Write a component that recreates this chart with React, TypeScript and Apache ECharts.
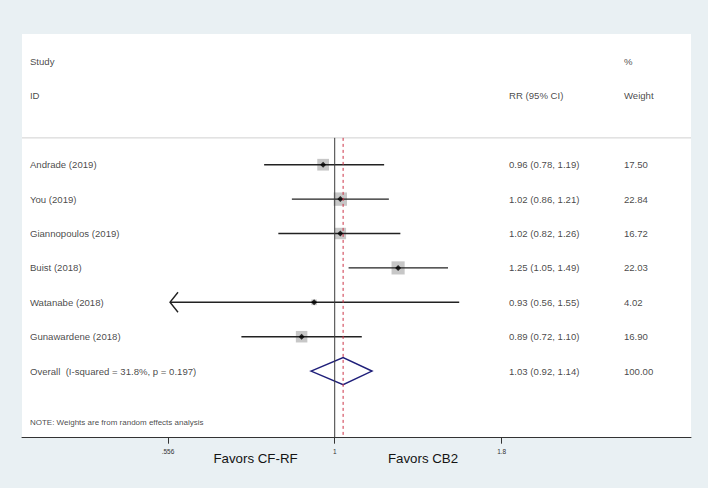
import React, { useEffect, useRef } from "react";
import * as echarts from "echarts";

// ---------- data ----------
const studies = [
  "Andrade (2019)",
  "You (2019)",
  "Giannopoulos (2019)",
  "Buist (2018)",
  "Watanabe (2018)",
  "Gunawardene (2018)",
];
const rr = [0.96, 1.02, 1.02, 1.25, 0.93, 0.89];
const lower = [0.78, 0.86, 0.82, 1.05, 0.56, 0.72];
const upper = [1.19, 1.21, 1.26, 1.49, 1.55, 1.1];
const weights = [17.5, 22.84, 16.72, 22.03, 4.02, 16.9];
const clippedLow = [false, false, false, false, true, false];

const overallLabel = "Overall  (I-squared = 31.8%, p = 0.197)";
const overallRR = 1.03;
const overallLower = 0.92;
const overallUpper = 1.14;
const overallWeight = 100;

const nullValue = 1;
const tickValues = [0.556, 1, 1.8];
const tickLabels = [".556", "1", "1.8"];
const favorLeft = "Favors CF-RF";
const favorRight = "Favors CB2";
const noteText = "NOTE: Weights are from random effects analysis";

// ---------- layout ----------
const FONT = "'Liberation Sans', Arial, Helvetica, sans-serif";
const TEXT_COLOR = "#141414";
const X_MIN = 0.3326; // RR at the left edge of the plot region
const X_MAX = 3.505; // RR at the right edge of the plot region
const COL_STUDY = 0.342;
const COL_RR = 1.847;
const COL_W = 2.768;
const Y_MIN = -0.8;
const Y_MAX = 10.936;
const ROW_FIRST = 3;
const ROW_OVERALL = 9;
const ROW_NOTE = 10.5;
const HEADER_LINE = 2.22;

const L = Math.log;
const fmt = (v: number) => v.toFixed(2);

export default function App() {
  const ref = useRef<HTMLDivElement>(null);
  useEffect(() => {
    const chart = echarts.init(ref.current!, null, { renderer: "svg" });

    const textData: any[] = [];
    const addText = (x: number, y: number, t: string, size = 9.6) =>
      textData.push({ value: [L(x), y], name: t, label: { fontSize: size } });
    addText(COL_STUDY, 0, "Study");
    addText(COL_STUDY, 1, "ID");
    addText(COL_W, 0, "%");
    addText(COL_RR, 1, "RR (95% CI)");
    addText(COL_W, 1, "Weight");
    studies.forEach((s, i) => {
      const row = ROW_FIRST + i;
      addText(COL_STUDY, row, s);
      addText(COL_RR, row, `${fmt(rr[i])} (${fmt(lower[i])}, ${fmt(upper[i])})`);
      addText(COL_W, row, fmt(weights[i]));
    });
    addText(COL_STUDY, ROW_OVERALL, overallLabel);
    addText(COL_RR, ROW_OVERALL, `${fmt(overallRR)} (${fmt(overallLower)}, ${fmt(overallUpper)})`);
    addText(COL_W, ROW_OVERALL, fmt(overallWeight));
    addText(COL_STUDY, ROW_NOTE, noteText, 8);

    // reference lines: [kind, x-value]  0 = header rule, 1 = null line, 2 = overall dashed line
    const refLines = [
      [0, L(X_MIN)],
      [1, L(nullValue)],
      [2, L(overallRR)],
    ];

    const option: any = {
      animation: false,
      backgroundColor: "#e9f0f3",
      textStyle: { fontFamily: FONT },
      grid: {
        left: 22,
        right: 17,
        top: 34,
        bottom: 50.3,
        show: true,
        backgroundColor: "#ffffff",
        borderWidth: 0,
      },
      xAxis: {
        type: "value",
        min: L(X_MIN),
        max: L(X_MAX),
        splitLine: { show: false },
        axisLine: { show: true, onZero: false, lineStyle: { color: "#333", width: 1 } },
        axisTick: {
          show: true,
          customValues: tickValues.map(L),
          length: 6,
          lineStyle: { color: "#333", width: 1 },
        },
        axisLabel: {
          show: true,
          customValues: tickValues.map(L),
          fontSize: 6.5,
          color: "#333",
          margin: 10,
          fontFamily: FONT,
          formatter: (v: number) => {
            const i = tickValues.findIndex((t) => Math.abs(L(t) - v) < 1e-6);
            return i >= 0 ? tickLabels[i] : "";
          },
        },
      },
      yAxis: {
        type: "value",
        inverse: true,
        min: Y_MIN,
        max: Y_MAX,
        show: false,
      },
      graphic: [
        {
          type: "text",
          x: 255.5,
          y: 458.7,
          style: {
            text: favorLeft,
            fontSize: 13.3,
            fontFamily: FONT,
            fill: TEXT_COLOR,
            textAlign: "center",
            textVerticalAlign: "middle",
          },
        },
        {
          type: "text",
          x: 423,
          y: 458.7,
          style: {
            text: favorRight,
            fontSize: 13.3,
            fontFamily: FONT,
            fill: TEXT_COLOR,
            textAlign: "center",
            textVerticalAlign: "middle",
          },
        },
      ],
      series: [
        {
          type: "custom",
          name: "refLines",
          silent: true,
          z: 6,
          clip: false,
          encode: { x: 1 },
          data: refLines,
          renderItem: (params: any, api: any) => {
            const kind = api.value(0);
            const x = api.value(1);
            if (kind === 0) {
              const a = api.coord([L(X_MIN), HEADER_LINE]);
              const b = api.coord([L(X_MAX), HEADER_LINE]);
              return {
                type: "line",
                shape: { x1: a[0], y1: a[1], x2: b[0], y2: b[1] },
                style: { stroke: "#d0d0d0", lineWidth: 1 },
              };
            }
            const a = api.coord([x, HEADER_LINE]);
            const b = api.coord([x, Y_MAX]);
            return {
              type: "line",
              shape: { x1: a[0], y1: a[1], x2: b[0], y2: b[1] },
              style:
                kind === 1
                  ? { stroke: "#3a3a3a", lineWidth: 1 }
                  : { stroke: "#cc3347", lineWidth: 1, lineDash: [3, 3] },
            };
          },
        },
        {
          type: "scatter",
          name: "texts",
          symbolSize: 0,
          silent: true,
          z: 5,
          data: textData,
          label: {
            show: true,
            position: "right",
            distance: 0,
            color: TEXT_COLOR,
            fontFamily: FONT,
            formatter: (p: any) => p.name,
          },
        },
        {
          type: "scatter",
          name: "boxes",
          symbol: "rect",
          silent: true,
          z: 2,
          itemStyle: { color: "#b9b9b9" },
          data: rr.map((v, i) => ({
            value: [L(v), ROW_FIRST + i],
            symbolSize: Math.sqrt(weights[i]) * 2.8,
          })),
        },
        {
          type: "custom",
          name: "ci",
          silent: true,
          z: 3,
          encode: { x: 0, y: 1 },
          data: rr.map((v, i) => [L(v), ROW_FIRST + i, L(lower[i]), L(upper[i]), clippedLow[i] ? 1 : 0]),
          renderItem: (params: any, api: any) => {
            const y = api.value(1);
            const a = api.coord([api.value(2), y]);
            const b = api.coord([api.value(3), y]);
            const children: any[] = [
              {
                type: "line",
                shape: { x1: a[0], y1: a[1], x2: b[0], y2: b[1] },
                style: { stroke: "#222", lineWidth: 1.4 },
              },
            ];
            if (api.value(4)) {
              children.push({
                type: "polyline",
                shape: { points: [[a[0] + 8, a[1] - 10], [a[0], a[1]], [a[0] + 8, a[1] + 10]] },
                style: { stroke: "#222", lineWidth: 1.4, fill: "none" },
              });
            }
            return { type: "group", children };
          },
        },
        {
          type: "scatter",
          name: "points",
          symbol: "diamond",
          symbolSize: 6,
          silent: true,
          z: 4,
          itemStyle: { color: "#000" },
          data: rr.map((v, i) => [L(v), ROW_FIRST + i]),
        },
        {
          type: "custom",
          name: "overall",
          silent: true,
          z: 4,
          encode: { x: 0, y: 1 },
          data: [[L(overallRR), ROW_OVERALL, L(overallLower), L(overallUpper)]],
          renderItem: (params: any, api: any) => {
            const y = api.value(1);
            const c = api.coord([api.value(0), y]);
            const a = api.coord([api.value(2), y]);
            const b = api.coord([api.value(3), y]);
            const h = 13.5;
            return {
              type: "polygon",
              shape: { points: [[a[0], a[1]], [c[0], c[1] - h], [b[0], b[1]], [c[0], c[1] + h]] },
              style: { stroke: "#1f1f7a", lineWidth: 1.5, fill: "none" },
            };
          },
        },
      ],
    };
    chart.setOption(option);
    return () => chart.dispose();
  }, []);
  return (
    <div
      ref={ref}
      style={{ position: "fixed", left: 0, top: 0, width: 708, height: 488 }}
    />
  );
}
